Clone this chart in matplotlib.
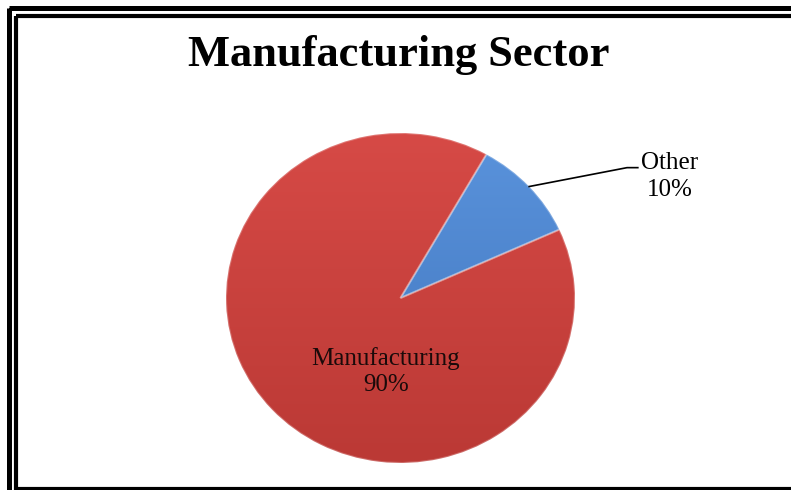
import numpy as np
import matplotlib
matplotlib.use("Agg")
import matplotlib.pyplot as plt
from matplotlib.patches import Rectangle

# share of the sector
labels = ["Other", "Manufacturing"]
shares = [10, 90]
colors = ["#4F88D2", "#CC4340"]
shade_top = ["#5A93DC", "#D64A46"]
shade_bot = ["#3F74BC", "#BB3935"]

W, H = 791, 490
fig = plt.figure(figsize=(W / 100, H / 100), dpi=100)

# frame drawn in pixel coordinates
frame = fig.add_axes([0, 0, 1, 1])
frame.set_xlim(0, W)
frame.set_ylim(H, 0)
frame.axis("off")
frame.add_patch(Rectangle((8.5, 8), 900, 600, fill=False, ec="black", lw=3.6))
frame.add_patch(Rectangle((16, 16), 900, 472.5, fill=False, ec="black", lw=3.0))

frame.text(398.5, 66, "Manufacturing Sector", ha="center", va="baseline",
           fontsize=32, fontweight="bold", family="Liberation Serif")

# pie axes spans the slightly flattened ellipse of the chart
pie_box = [226, 133, 575, 463]
ax = fig.add_axes([pie_box[0] / W, 1 - pie_box[3] / H,
                   (pie_box[2] - pie_box[0]) / W, (pie_box[3] - pie_box[1]) / H])
wedges, _ = ax.pie(shares, colors=colors, startangle=24.5, counterclock=True,
                   radius=1.0, wedgeprops=dict(lw=0))
ax.set_aspect("auto")
ax.set_xlim(-1, 1)
ax.set_ylim(-1, 1)
ax.axis("off")

# vertical shading clipped to each slice
yy = np.linspace(1, 0, 256).reshape(-1, 1)
for w, top, bot in zip(wedges, shade_top, shade_bot):
    c1 = np.array(matplotlib.colors.to_rgb(top))
    c2 = np.array(matplotlib.colors.to_rgb(bot))
    grad = c2 + (c1 - c2) * yy[..., None]
    grad = np.repeat(grad, 2, axis=1)
    im = ax.imshow(grad, extent=(-1, 1, -1, 1), aspect="auto", zorder=1.5)
    im.set_clip_path(w)
    w.set_zorder(1)

# soft rim highlight on the slices
for w in wedges:
    w.set_edgecolor((1, 1, 1, 0.25))
    w.set_linewidth(1.5)
    w.set_zorder(2)
    w.set_facecolor("none")

# label for the small slice, with a leader line
th = np.deg2rad(24.5 + 360 * shares[0] / sum(shares) / 2)
x0, y0 = np.cos(th), np.sin(th)
ax.plot([x0, 1.298, 1.36], [y0, 0.79, 0.79], color="black", lw=1.2,
        clip_on=False, zorder=3)
ax.text(1.544, 0.735, f"{labels[0]}\n{shares[0]}%", ha="center", va="center",
        fontsize=18, family="Liberation Serif", linespacing=1.3, zorder=3)

ax.text(-0.083, -0.445, f"{labels[1]}\n{shares[1]}%", ha="center", va="center",
        fontsize=18, family="Liberation Serif", linespacing=1.25,
        color="#1a0a0a", zorder=3)

fig.savefig("out.png", dpi=100)
